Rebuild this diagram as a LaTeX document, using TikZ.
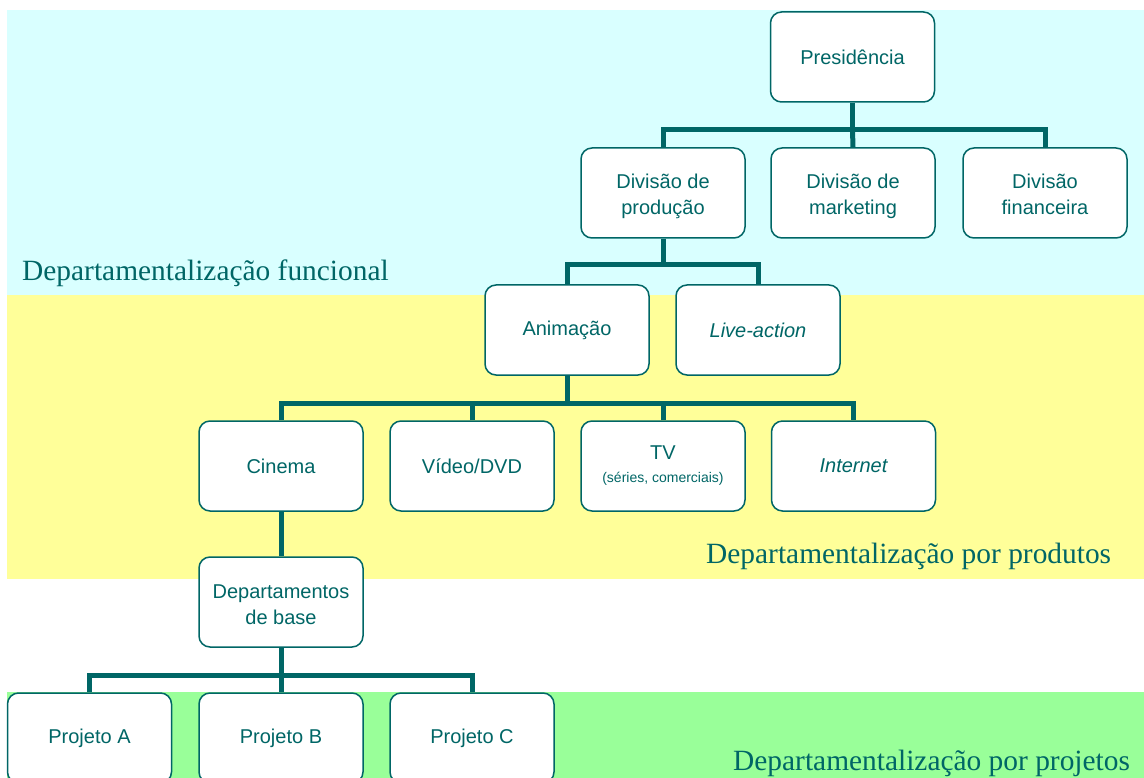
\documentclass[tikz,border=0pt]{standalone}
\usepackage{fontspec}
\setmainfont{Liberation Serif}
\setsansfont{Liberation Sans}
\definecolor{teal}{HTML}{006666}
\definecolor{bandcyan}{HTML}{D9FFFF}
\definecolor{bandyellow}{HTML}{FFFF99}
\definecolor{bandgreen}{HTML}{99FF99}
% struts that fix the height of a first line and the depth of a last line
\newcommand{\topline}{\rule{0pt}{24pt}}
\newcommand{\botline}{\rule[-6pt]{0pt}{6pt}}
\begin{document}
\begin{tikzpicture}[x=1pt,y=-1pt,
  unit/.style={draw=teal, line width=1.5pt, fill=white, rounded corners=11pt,
    minimum width=164pt, minimum height=90pt, inner sep=0pt, align=center,
    text=teal, font=\sffamily\fontsize{20}{26}\selectfont},
  conn/.style={draw=teal, line width=5pt, line join=miter},
  bandlabel/.style={text=teal, font=\rmfamily\fontsize{29.4}{32}\selectfont, inner sep=0pt, anchor=base west}]
\useasboundingbox (0,0) rectangle (1144,778);
% background bands
\fill[bandcyan] (7,10) rectangle (1144,295);
\fill[bandyellow] (7,295) rectangle (1144,579);
\fill[bandgreen] (7,692) rectangle (1144,778);
% band labels
\node[bandlabel] (lfun) at (22,280) {Departamentalização funcional};
\node[bandlabel] (lprod) at (706,563) {Departamentalização por produtos};
\node[bandlabel] (lproj) at (733,770) {Departamentalização por projetos};
% units
\node[unit] (pres) at (852.5,57) {Presidência};
\node[unit] (prod) at (663,193) {\topline Divisão de\\produção\botline};
\node[unit] (mkt) at (853,193) {\topline Divisão de\\marketing\botline};
\node[unit] (fin) at (1045,193) {\topline Divisão\\financeira\botline};
\node[unit] (anim) at (567,330) {Animação};
\node[unit] (live) at (758,330) {\itshape Live-action};
\node[unit] (cine) at (281,466) {Cinema};
\node[unit] (video) at (472,466) {Vídeo/DVD};
\node[unit] (tv) at (663,466) {TV\\[-3pt]{\fontsize{14}{16}\selectfont (séries, comerciais)}};
\node[unit] (inet) at (853.5,466) {\itshape Internet};
\node[unit] (dept) at (281,602) {\topline Departamentos\\de base\botline};
\node[unit] (pa) at (89.5,738) {Projeto A};
\node[unit] (pb) at (281,738) {Projeto B};
\node[unit] (pc) at (472,738) {Projeto C};
% connectors
\coordinate (b1) at (852.5,130);
\draw[conn] (pres.south) -- (b1);
\draw[conn] (prod.north) |- (b1) -| (fin.north);
\draw[conn] (b1) -- (mkt.north);
\coordinate (b2) at (663,265);
\draw[conn] (prod.south) -- (b2);
\draw[conn] (anim.north) |- (b2) -| (live.north);
\coordinate (b3) at (567,403);
\draw[conn] (anim.south) -- (b3);
\draw[conn] (cine.north) |- (b3) -| (inet.north);
\draw[conn] (video.north) -- (video.north |- b3);
\draw[conn] (tv.north) -- (tv.north |- b3);
\draw[conn] (cine.south) -- (dept.north);
\coordinate (b4) at (281,675);
\draw[conn] (dept.south) -- (b4);
\draw[conn] (pa.north) |- (b4) -| (pc.north);
\draw[conn] (b4) -- (pb.north);
\end{tikzpicture}
\end{document}
